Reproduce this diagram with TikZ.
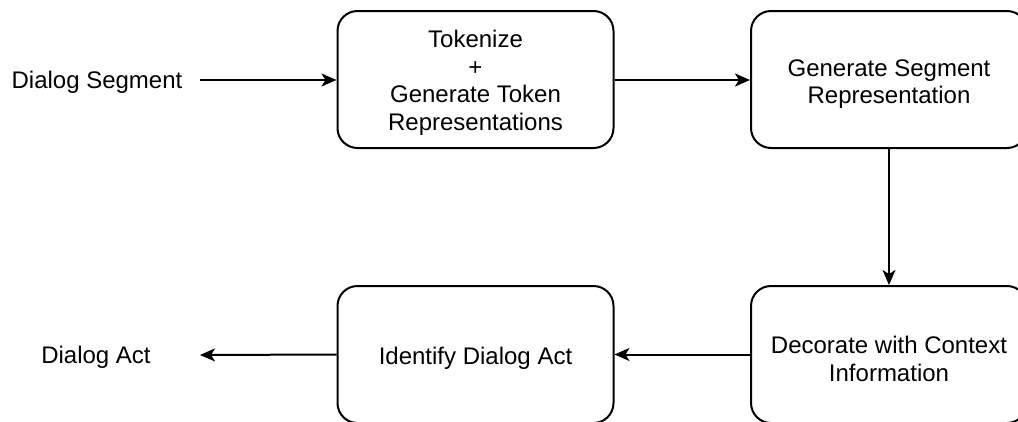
\documentclass[tikz,border=0pt]{standalone}
\usepackage{fontspec}
\setmainfont{Liberation Sans}
\usetikzlibrary{arrows.meta}
\begin{document}
\begin{tikzpicture}[x=1pt,y=-1pt,
  stepbox/.style={draw=black, line width=2pt, rounded corners=20pt, minimum width=276pt, minimum height=137pt, inner sep=0pt},
  boxtext/.style={inner sep=0pt, align=center, font=\fontsize{24}{27.5}\selectfont},
  plain/.style={inner sep=0pt, font=\fontsize{24}{27.5}\selectfont},
  conn/.style={line width=2pt, -{Stealth[length=15pt,width=13pt,inset=4pt]}}]
\useasboundingbox (0,0) rectangle (1018,421);
\clip (0,0) rectangle (1018,421);
\node[stepbox] (tok) at (475.5,79.5) {};
\node[stepbox] (seg) at (889,79.5) {};
\node[stepbox] (dec) at (889,354.5) {};
\node[stepbox] (ida) at (475.5,354.5) {};
\node[boxtext] (tokt) at (475.5,83) {Tokenize\\+\\Generate Token\\Representations};
\node[boxtext] (segt) at (889,84) {Generate Segment\\Representation};
\node[boxtext] (dect) at (889,359) {Decorate with Context\\Information};
\node[boxtext] (idat) at (475.5,358) {Identify Dialog Act};
\node[plain] (in) at (97,82) {Dialog Segment};
\node[plain] (out) at (96,357) {Dialog Act};
\coordinate (inend) at (200,80);
\coordinate (outend) at (200,355);
\draw[conn] (inend) -- (tok.west |- inend);
\draw[conn] (tok.east |- inend) -- (seg.west |- inend);
\draw[conn] (seg.south) -- (dec.north);
\draw[conn] (dec.west) -- (ida.east);
\draw[conn] (ida.west) -- (outend);
\end{tikzpicture}
\end{document}
